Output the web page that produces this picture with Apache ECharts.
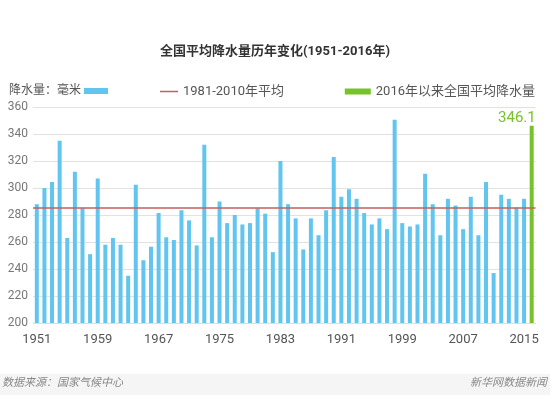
<!DOCTYPE html>
<html>
<head>
<meta charset="utf-8">
<script src="https://cdn.jsdelivr.net/npm/echarts@6/dist/echarts.min.js"></script>
<style>
html,body{margin:0;padding:0;background:#fff;}
#chart{width:550px;height:395px;}
</style>
</head>
<body>
<div id="chart"></div>
<script>
var years = [];
for (var y = 1951; y <= 2016; y++) { years.push(String(y)); }

var rainfall = [
  288, 300, 304.5, 335, 263, 312, 285, 251, 307, 258,
  263, 258, 235, 302.5, 246.5, 256.5, 281.5, 263.5, 261.5, 283.5,
  276, 257.5, 332, 263.5, 290, 274, 280, 273, 274, 285,
  281, 252.5, 320, 288, 277.5, 254.5, 277.5, 265, 283.5, 323,
  293.5, 299, 292, 281.5, 273, 277.5, 269.5, 350.5, 274, 271.5,
  273, 310.5, 288, 265, 292, 287, 269.5, 293.5, 265, 304.5,
  237, 295, 292, 285.5, 292, '-'
];
var latest = [
  '-', '-', '-', '-', '-', '-', '-', '-', '-', '-',
  '-', '-', '-', '-', '-', '-', '-', '-', '-', '-',
  '-', '-', '-', '-', '-', '-', '-', '-', '-', '-',
  '-', '-', '-', '-', '-', '-', '-', '-', '-', '-',
  '-', '-', '-', '-', '-', '-', '-', '-', '-', '-',
  '-', '-', '-', '-', '-', '-', '-', '-', '-', '-',
  '-', '-', '-', '-', '-', 346.1
];
var avgValue = 285.5;

var nameRain = '降水量：毫米';
var nameAvg = '1981-2010年平均';
var nameLatest = '2016年以来全国平均降水量';

var chart = echarts.init(document.getElementById('chart'), null, {renderer: 'canvas'});
var font = 'Roboto, "Noto Sans CJK SC", sans-serif';
chart.setOption({
  animation: false,
  backgroundColor: '#ffffff',
  title: {
    text: '全国平均降水量历年变化(1951-2016年)',
    left: 'center',
    top: 40,
    textStyle: {fontSize: 13, fontWeight: 'bold', color: '#333', fontFamily: font}
  },
  legend: [
    {
      data: [nameRain], left: 4, top: 80, align: 'right',
      itemWidth: 24, itemHeight: 6, itemGap: 4, icon: 'rect',
      textStyle: {fontSize: 12, color: '#555', fontFamily: font, padding: [0, -2, 0, 0]}
    },
    {
      data: [{name: nameAvg, icon: 'rect'}], left: 155, top: 80,
      itemWidth: 18, itemHeight: 1.5,
      textStyle: {fontSize: 13, color: '#555', fontFamily: font}
    },
    {
      data: [nameLatest], right: 10, top: 80, icon: 'rect',
      itemWidth: 26, itemHeight: 6,
      textStyle: {fontSize: 13, color: '#555', fontFamily: font}
    }
  ],
  grid: {left: 33, right: 14.5, top: 107, bottom: 72},
  xAxis: {
    type: 'category',
    data: years,
    axisLine: {show: true, lineStyle: {color: '#dddddd'}},
    axisTick: {show: false},
    axisLabel: {interval: 7, fontSize: 13, color: '#555', margin: 10, fontFamily: font}
  },
  yAxis: {
    type: 'value',
    min: 200, max: 360, interval: 20,
    axisLine: {show: false},
    axisTick: {show: false},
    axisLabel: {fontSize: 12, color: '#777', margin: 5, fontFamily: font, align: 'right'},
    splitLine: {lineStyle: {color: '#e2e2e2', width: 1}}
  },
  series: [
    {
      name: nameRain, type: 'bar', data: rainfall, barWidth: 4,
      itemStyle: {color: '#62c5f0'}
    },
    {
      name: nameLatest, type: 'bar', data: latest, barWidth: 4, barGap: '-100%',
      itemStyle: {color: '#77c22b'},
      label: {show: true, position: 'top', distance: 0, fontSize: 15, color: '#77c22b', fontFamily: font, align: 'right', offset: [4, 0]}
    },
    {
      name: nameAvg, type: 'line', data: [], color: '#c0605e',
      itemStyle: {color: '#c0605e'},
      lineStyle: {color: '#c0605e'},
      markLine: {
        silent: true, symbol: 'none',
        label: {show: false},
        lineStyle: {color: '#c0605e', width: 1.5, type: 'solid'},
        data: [{yAxis: avgValue}]
      }
    }
  ],
  graphic: [
    {type: 'rect', left: 0, top: 374, shape: {width: 550, height: 21}, style: {fill: '#f5f5f5'}, z: -1},
    {type: 'text', left: 2, top: 378, style: {text: '数据来源：国家气候中心', fontSize: 11, fontStyle: 'italic', fill: '#888', fontFamily: font}},
    {type: 'text', right: 3, top: 378, style: {text: '新华网数据新闻', fontSize: 11, fontStyle: 'italic', fill: '#888', fontFamily: font}}
  ]
});
</script>
</body>
</html>
